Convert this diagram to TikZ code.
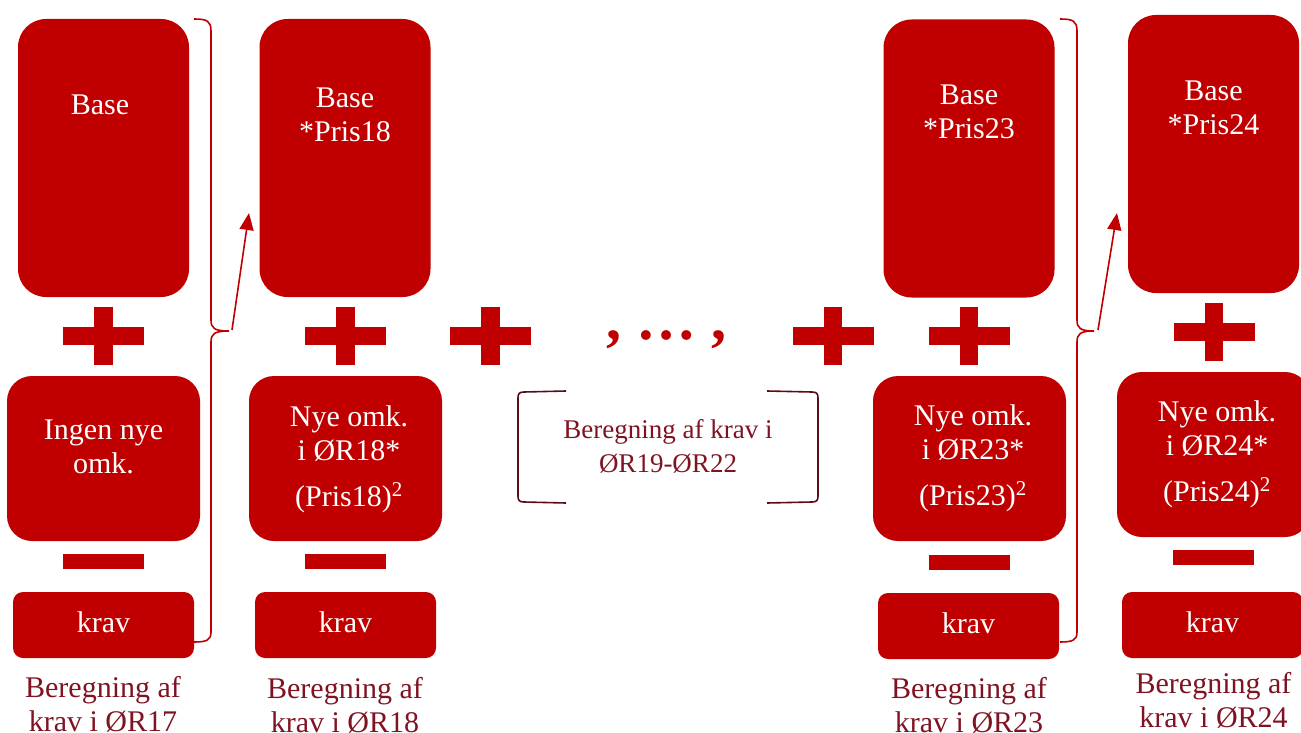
\documentclass[tikz,border=0pt]{standalone}
\usepackage{fontspec}
\setmainfont{Liberation Serif}
\usetikzlibrary{arrows.meta}

\definecolor{boxred}{HTML}{C00000}
\definecolor{textred}{HTML}{7F1322}
\definecolor{darkbracket}{HTML}{5C0A16}
\newcommand\boxfont{\fontsize{30}{34}\selectfont}
\newcommand\midfont{\fontsize{27}{34}\selectfont}

\tikzset{
  redbox/.style={fill=boxred, draw=none, inner sep=0pt},
  basebox/.style={redbox, minimum width=171pt, minimum height=278pt, rounded corners=28pt},
  costbox/.style={redbox, minimum width=193pt, minimum height=165pt, rounded corners=25pt},
  kravbox/.style={redbox, minimum width=181pt, minimum height=66pt, rounded corners=10pt},
  intext/.style={text=white, align=center, inner sep=0pt, font=\boxfont},
  outtext/.style={text=textred, align=center, inner sep=0pt, font=\boxfont},
  bracearrow/.style={draw=boxred, line width=1.6pt, -{Triangle[length=17pt,width=14pt]}},
}

\begin{document}
\begin{tikzpicture}[x=1pt, y=-1pt]
  \useasboundingbox (0,0) rectangle (1301,733);

  % boxes
  \node[basebox] (base17) at (103.5,158) {};
  \node[basebox] (base18) at (345,158) {};
  \node[basebox] (base23) at (969,158.5) {};
  \node[basebox] (base24) at (1213.5,154) {};

  \node[costbox] (cost17) at (103.5,458.5) {};
  \node[costbox] (cost18) at (345.5,458.5) {};
  \node[costbox] (cost23) at (969.5,458.5) {};
  \node[costbox] (cost24) at (1213.5,454.5) {};

  \node[kravbox] (krav17) at (103.5,625) {};
  \node[kravbox] (krav18) at (345.5,625) {};
  \node[kravbox] (krav23) at (968.5,626) {};
  \node[kravbox] (krav24) at (1212.5,625) {};

  % plus and minus signs
  \foreach \px/\py in {103.5/336, 345.5/336, 490.5/336, 833/336, 969/336, 1214/332} {
    \fill[boxred] (\px-40.5,\py-9.25) rectangle (\px+40.5,\py+9.25);
    \fill[boxred] (\px-9.25,\py-29) rectangle (\px+9.25,\py+29);
  }
  \foreach \px/\py in {103.5/561.5, 345.5/561.5, 969/562, 1213.5/557.5} {
    \fill[boxred] (\px-40.5,\py-7.5) rectangle (\px+40.5,\py+7.5);
  }

  % texts in the boxes
  \node[intext, anchor=north] (base17txt) at (100,95) {Base};
  \node[intext, anchor=north] (base18txt) at (345,88) {Base\\*Pris18};
  \node[intext, anchor=north] (base23txt) at (969,85) {Base\\*Pris23};
  \node[intext, anchor=north] (base24txt) at (1213.5,81) {Base\\*Pris24};

  \node[intext, anchor=north] (cost17txt) at (103.5,420) {Ingen nye\\omk.};
  \node[intext, anchor=north] (cost18txt) at (349,405) {Nye omk.\\i ØR18*\\[12pt](Pris18)\textsuperscript{2}};
  \node[intext, anchor=north] (cost23txt) at (973,404) {Nye omk.\\i ØR23*\\[12pt](Pris23)\textsuperscript{2}};
  \node[intext, anchor=north] (cost24txt) at (1217,400) {Nye omk.\\i ØR24*\\[12pt](Pris24)\textsuperscript{2}};

  \node[intext, anchor=base] (krav17txt) at (103.5,632) {krav};
  \node[intext, anchor=base] (krav18txt) at (345.5,632) {krav};
  \node[intext, anchor=base] (krav23txt) at (968.5,633) {krav};
  \node[intext, anchor=base] (krav24txt) at (1212.5,632) {krav};

  % labels under the columns
  \node[outtext, anchor=north] (lab17) at (103,676) {Beregning af\\krav i ØR17};
  \node[outtext, anchor=north] (lab18) at (345,677) {Beregning af\\krav i ØR18};
  \node[outtext, anchor=north] (lab23) at (969,677) {Beregning af\\krav i ØR23};
  \node[outtext, anchor=north] (lab24) at (1213.5,672) {Beregning af\\krav i ØR24};

  % the years in between
  \node[text=boxred, anchor=base, inner sep=0pt, font=\fontsize{60}{60}\selectfont\bfseries] (dots) at (666,339) {, … ,};
  \node[text=textred, anchor=north, align=center, inner sep=0pt, font=\midfont] (midtxt) at (668,419) {Beregning af krav i\\ØR19-ØR22};
  \draw[darkbracket, line width=1.6pt] (566,391) -- (524,392) .. controls (519,392) and (518,394) .. (518,398)
    -- (518,496) .. controls (518,500) and (519,502) .. (524,502) -- (566,503);
  \draw[darkbracket, line width=1.6pt] (767,391) -- (812,392) .. controls (817,392) and (818,394) .. (818,398)
    -- (818,496) .. controls (818,500) and (817,502) .. (812,502) -- (767,503);

  % braces and arrows
  \draw[boxred, line width=1.6pt] (194,19) .. controls (207,19) and (211,21) .. (211,31) -- (211,320)
    .. controls (211,328) and (214,331) .. (229,331) .. controls (214,331) and (211,334) .. (211,342)
    -- (211,632) .. controls (211,640) and (207,642) .. (194,642);
  \coordinate (from17) at (232,330);
  \coordinate (to18) at (249,213);
  \draw[bracearrow] (from17) -- (to18);

  \draw[boxred, line width=1.6pt] (1060,19) .. controls (1073,19) and (1077,21) .. (1077,31) -- (1077,320)
    .. controls (1077,328) and (1080,331) .. (1094,331) .. controls (1080,331) and (1077,334) .. (1077,342)
    -- (1077,632) .. controls (1077,640) and (1073,642) .. (1060,642);
  \coordinate (from23) at (1098,330);
  \coordinate (to24) at (1117,213);
  \draw[bracearrow] (from23) -- (to24);
\end{tikzpicture}
\end{document}
